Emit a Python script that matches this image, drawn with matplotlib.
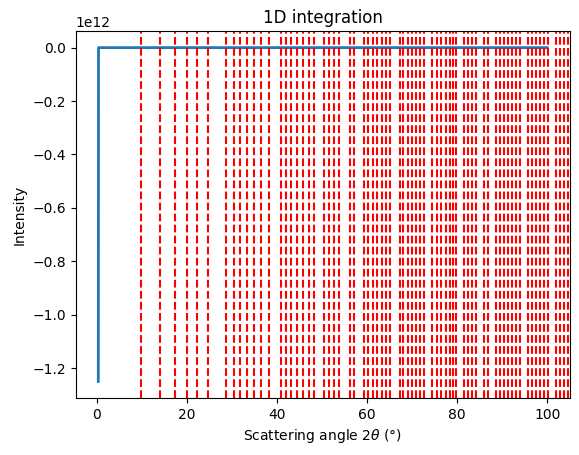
import matplotlib
matplotlib.use("Agg")
import matplotlib.pyplot as plt

# integrated profile: 2theta (deg) and intensity
two_theta = [0.3, 0.35, 100.0]
intensity = [-1.25e12, 0.0, 0.0]

# calibrant ring positions (deg)
rings = [9.7, 14.0, 17.3, 19.9, 22.3, 24.6, 28.6, 30.4, 31.8, 33.3, 34.9, 36.5,
         38.1, 40.8, 42.0, 43.2, 44.4, 45.7, 47.0, 48.1, 50.4, 51.5, 52.6, 53.7,
         56.1, 57.1, 59.3, 60.2, 61.3, 62.2, 63.2, 64.1, 65.1, 67.2, 68.0, 69.0,
         69.9, 70.8, 71.8, 72.7, 74.5, 75.5, 76.4, 77.4, 78.3, 79.0, 79.8, 81.6,
         82.5, 83.3, 84.2, 86.0, 86.8, 88.6, 89.5, 90.3, 91.2, 92.1, 93.0, 93.9,
         95.8, 96.7, 97.5, 98.4, 99.3, 100.1, 101.9, 102.8, 103.8, 104.5]

fig, ax = plt.subplots(figsize=(5.79, 4.55), dpi=100)
fig.subplots_adjust(left=0.131, right=0.984, top=0.932, bottom=0.125)
ax.plot(two_theta, intensity, lw=2)
for r in rings:
    ax.axvline(r, color="red", ls="--")

ax.set_title("1D integration")
ax.set_xlabel(r"Scattering angle 2$\theta$ (°)")
ax.set_ylabel("Intensity")

fig.savefig("out.png")
